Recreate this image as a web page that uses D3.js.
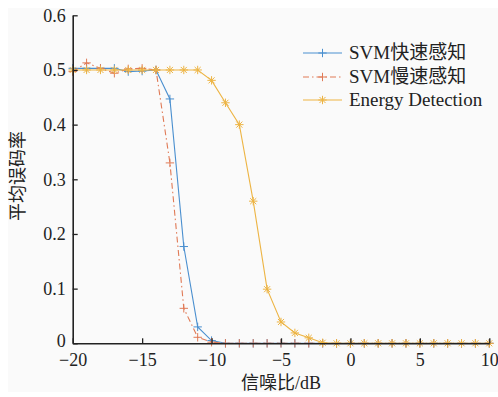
<!DOCTYPE html>
<html>
<head>
<meta charset="utf-8">
<script src="https://cdn.jsdelivr.net/npm/d3@7"></script>
<style>
  body { margin: 0; background: #ffffff; }
  text { font-family: "Liberation Serif", "Noto Sans CJK SC", serif; fill: #222; }
</style>
</head>
<body>
<script>
// data
const snr = d3.range(-20, 11, 1);
const svmFast = [0.503, 0.503, 0.503, 0.503, 0.497, 0.498, 0.500, 0.447, 0.177, 0.030, 0.005,
  0, 0, 0, 0, 0, 0, 0, 0, 0, 0, 0, 0, 0, 0, 0, 0, 0, 0, 0, 0];
const svmSlow = [0.497, 0.513, 0.503, 0.494, 0.502, 0.503, 0.500, 0.330, 0.064, 0.011, 0.002,
  0, 0, 0, 0, 0, 0, 0, 0, 0, 0, 0, 0, 0, 0, 0, 0, 0, 0, 0, 0];
const energy = [0.500, 0.500, 0.500, 0.500, 0.500, 0.500, 0.500, 0.500, 0.500, 0.500, 0.481,
  0.440, 0.400, 0.260, 0.099, 0.039, 0.019, 0.010, 0.001, 0, 0, 0, 0, 0, 0, 0, 0, 0, 0, 0, 0];
const seriesNames = ["SVM快速感知", "SVM慢速感知", "Energy Detection"];
const xTicks = [-20, -15, -10, -5, 0, 5, 10];
const yTicks = [0, 0.1, 0.2, 0.3, 0.4, 0.5, 0.6];

const width = 498, height = 397;
const colors = ["#4a8fcf", "#e07a56", "#edb443"];

let svg = d3.select("body").append("svg")
    .attr("width", width)
    .attr("height", height);

svg.append("rect")
    .attr("x", 8).attr("y", 8)
    .attr("width", width - 8).attr("height", 384)
    .attr("fill", "#fafafa");

let x = d3.scaleLinear().domain([-20, 10]).range([72.7, 489.3]);
let y = d3.scaleLinear().domain([0, 0.6]).range([343.3, 15.3]);

function fmt(v){
    return v < 0 ? "\u2212" + Math.abs(v) : String(v);
}

/* ------- LINES -------*/
let data = [svmFast, svmSlow, energy];
let dashes = [null, "6,3,1.5,3", null];

let line = d3.line()
    .x(function(d, i){ return x(snr[i]); })
    .y(function(d){ return y(d); });

function marker(g, kind, color){
    let s = 4.2;
    let p = "M" + (-s) + ",0H" + s + "M0," + (-s) + "V" + s;
    if(kind === "star"){
        let t = s * 0.72;
        p += "M" + (-t) + "," + (-t) + "L" + t + "," + t + "M" + (-t) + "," + t + "L" + t + "," + (-t);
    }
    g.append("path")
        .attr("d", p)
        .attr("stroke", color)
        .attr("stroke-width", 1)
        .attr("fill", "none");
}

data.forEach(function(values, k){
    svg.append("path")
        .datum(values)
        .attr("d", line)
        .attr("fill", "none")
        .attr("stroke", colors[k])
        .attr("stroke-width", 1.1)
        .attr("stroke-dasharray", dashes[k]);
    values.forEach(function(v, i){
        let g = svg.append("g")
            .attr("transform", "translate(" + x(snr[i]) + "," + y(v) + ")");
        marker(g, k === 2 ? "star" : "plus", colors[k]);
    });
});

/* ------- AXES -------*/
let xAxis = svg.append("g")
    .attr("transform", "translate(0," + y(0) + ")")
    .call(d3.axisBottom(x).tickValues(xTicks).tickSizeInner(-5).tickSizeOuter(0).tickPadding(10).tickFormat(fmt));
let yAxis = svg.append("g")
    .attr("transform", "translate(" + x(-20) + ",0)")
    .call(d3.axisLeft(y).tickValues(yTicks).tickSizeInner(-5).tickSizeOuter(0).tickPadding(7).tickFormat(function(d){ return d === 0 ? "0" : d3.format(".1f")(d); }));

[xAxis, yAxis].forEach(function(a){
    a.select(".domain").attr("stroke", "#222").attr("stroke-width", 1.6);
    a.selectAll(".tick line").attr("stroke", "#222").attr("stroke-width", 1.3);
    a.selectAll(".tick text")
        .attr("fill", "#222")
        .style("font-family", "'Liberation Serif', serif")
        .style("font-size", "18px");
});
xAxis.selectAll(".tick text").attr("dy", "0.72em");
yAxis.selectAll(".tick text").filter(function(d){ return d === 0; }).attr("dy", "0.2em");

svg.append("text")
    .attr("x", (x(-20) + x(10)) / 2)
    .attr("y", 389)
    .attr("text-anchor", "middle")
    .style("font-size", "18px")
    .text("信噪比/dB");

svg.append("text")
    .attr("transform", "translate(24,176) rotate(-90)")
    .attr("text-anchor", "middle")
    .style("font-size", "18px")
    .text("平均误码率");

/* ------- LEGEND -------*/
let legendY = [53, 77, 100];
seriesNames.forEach(function(name, k){
    let g = svg.append("g").attr("transform", "translate(303," + legendY[k] + ")");
    g.append("line")
        .attr("x1", 0).attr("x2", 39)
        .attr("stroke", colors[k])
        .attr("stroke-width", 1.1)
        .attr("stroke-dasharray", dashes[k]);
    let m = g.append("g").attr("transform", "translate(19.5,0)");
    marker(m, k === 2 ? "star" : "plus", colors[k]);
    g.append("text")
        .attr("x", 46)
        .attr("y", 6)
        .style("font-size", "19px")
        .text(name);
});
</script>
</body>
</html>
